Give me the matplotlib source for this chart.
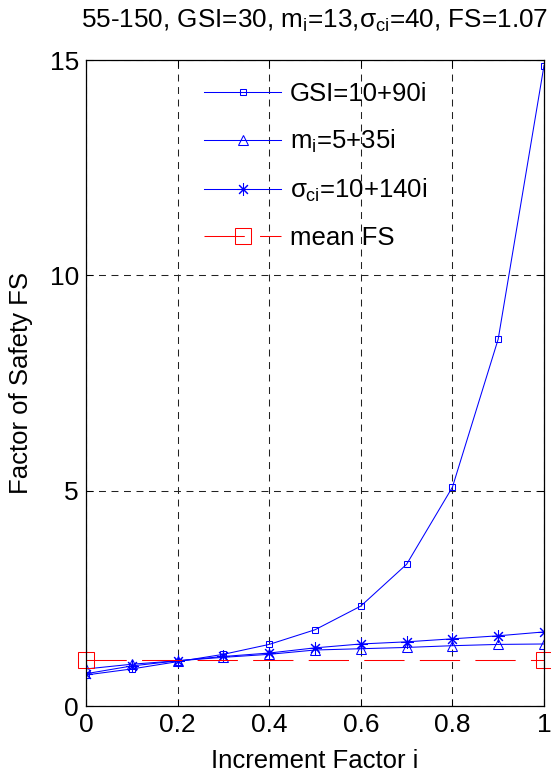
import numpy as np
import matplotlib
matplotlib.use('Agg')
import matplotlib.pyplot as plt

plt.rcParams['font.family'] = ['Liberation Sans', 'DejaVu Sans']
plt.rcParams['mathtext.fontset'] = 'custom'
plt.rcParams['mathtext.rm'] = 'Liberation Sans'
plt.rcParams['mathtext.it'] = 'Liberation Sans'
plt.rcParams['mathtext.bf'] = 'Liberation Sans'
plt.rcParams['lines.scale_dashes'] = False

# increment factor
inc = [0.0, 0.1, 0.2, 0.3, 0.4, 0.5, 0.6, 0.7, 0.8, 0.9, 1.0]
fs_gsi = [0.72, 0.86, 1.03, 1.20, 1.43, 1.77, 2.32, 3.29, 5.08, 8.52, 14.87]
fs_mi = [0.86, 0.97, 1.05, 1.13, 1.20, 1.30, 1.33, 1.36, 1.40, 1.43, 1.44]
fs_sci = [0.75, 0.93, 1.05, 1.15, 1.23, 1.35, 1.44, 1.49, 1.56, 1.63, 1.72]
mean_x = [0.0, 1.0]
mean_fs = [1.07, 1.07]

labels = ['GSI=10+90i', r'm$_i$=5+35i', r'$\sigma_{ci}$=10+140i', 'mean FS']
title = r'55-150, GSI=30, m$_i$=13,$\sigma_{ci}$=40, FS=1.07'

fig = plt.figure(figsize=(5.51, 7.78), dpi=100)
ax = fig.add_axes([86/551., 1-706/778., 458/551., 646/778.])

blue = '#0000FF'
ax.plot(inc, fs_gsi, '-', color=blue, lw=0.75, marker='s', ms=5, mfc='none', mec=blue, mew=0.75, label=labels[0])
ax.plot(inc, fs_mi, '-', color=blue, lw=0.75, marker='^', ms=7, mfc='none', mec=blue, mew=0.75, label=labels[1])
ax.plot(inc, fs_sci, '-', color=blue, lw=0.75, marker=(8, 2, 0), ms=9, mfc='none', mec=blue, mew=0.75, label=labels[2])
ax.plot(mean_x, mean_fs, color='#FF0000', lw=0.75, dashes=(29, 11), marker='s', ms=11, mfc='none',
        mec='#FF0000', mew=0.75, label=labels[3], clip_on=False)

ax.set_xlim(0, 1)
ax.set_ylim(0, 15)
ax.set_xticks([0, 0.2, 0.4, 0.6, 0.8, 1])
ax.set_xticklabels(['0', '0.2', '0.4', '0.6', '0.8', '1'])
ax.set_yticks([0, 5, 10, 15])
ax.tick_params(direction='in', length=5, width=0.75, labelsize=19, top=True, right=True, pad=5)
for s in ax.spines.values():
    s.set_linewidth(0.9)
ax.grid(True, color='#222222', lw=0.75, dashes=(5, 4))

ax.set_xlabel('Increment Factor i', fontsize=18.5, labelpad=9)
ax.set_ylabel('Factor of Safety FS', fontsize=18.5, labelpad=12)
ax.set_title(title, fontsize=18.8, pad=23)

ax.legend(loc='upper left', bbox_to_anchor=((204-86)/458., (706-82)/646.), frameon=False,
          fontsize=18.5, borderpad=0, borderaxespad=0, handlelength=3.0, handletextpad=0.35,
          labelspacing=0.85)

fig.savefig('out.png', dpi=100)
